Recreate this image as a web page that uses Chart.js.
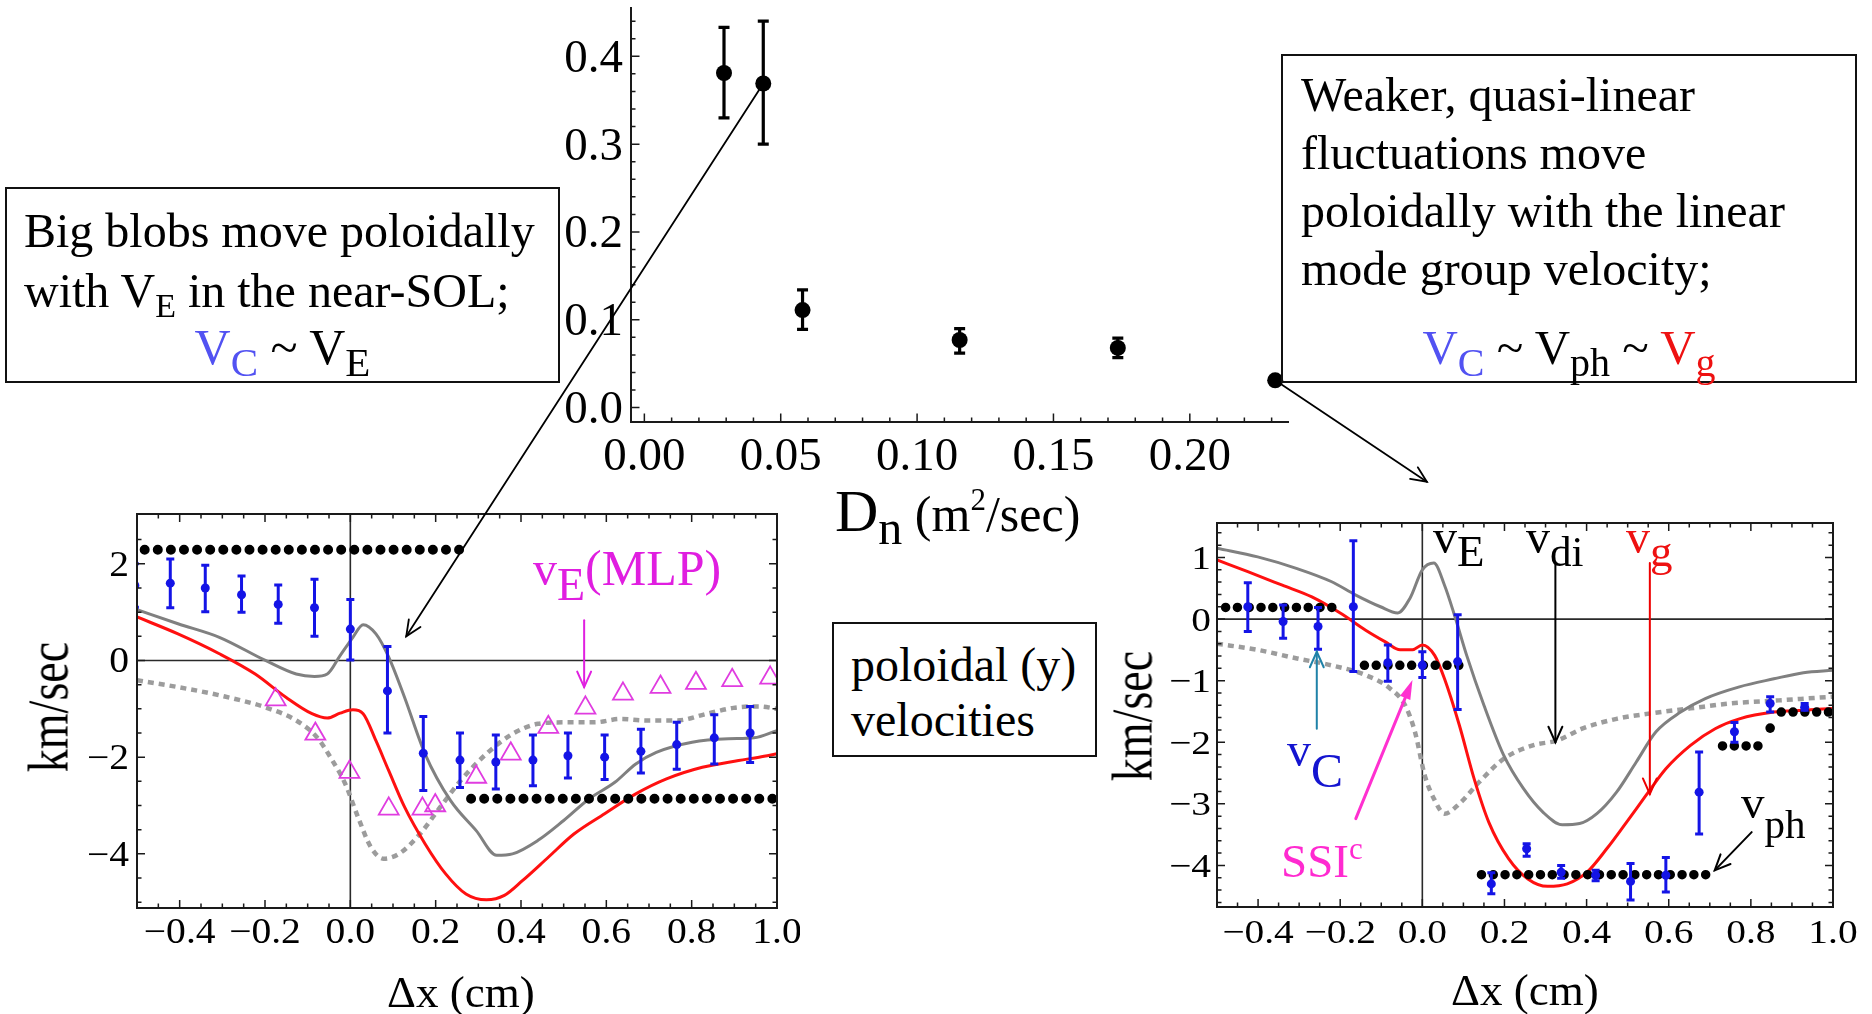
<!DOCTYPE html>
<html><head><meta charset="utf-8">
<script src="https://cdn.jsdelivr.net/npm/chart.js@4.4.1/dist/chart.umd.min.js"></script>
<style>
html,body{margin:0;padding:0;background:#fff;}
body{width:1872px;height:1014px;position:relative;overflow:hidden;font-family:'Liberation Serif','Times New Roman',serif;color:#000;}
.cw{position:absolute;}
.box{position:absolute;box-sizing:border-box;border:2px solid #111;font-size:48px;white-space:nowrap;}
.t{position:absolute;white-space:nowrap;line-height:1;}
.r{position:relative;}
#overlay{position:absolute;left:0;top:0;pointer-events:none;z-index:5;}
</style></head><body>

<div class="cw" style="left:520px;top:0px;width:800px;height:560px;"><canvas id="cTop"></canvas></div>
<div class="cw" style="left:0px;top:480px;width:800px;height:534px;"><canvas id="cLeft"></canvas></div>
<div class="cw" style="left:1100px;top:480px;width:772px;height:534px;"><canvas id="cRight"></canvas></div>

<!-- text boxes -->
<div class="box" style="left:5px;top:187px;width:555px;height:196px;padding:12px 0 0 17px;line-height:60px;">Big blobs move poloidally<br>with V<span class="r" style="font-size:34px;top:10px">E</span> in the near-SOL;
<div style="position:absolute;left:0;right:0;top:133px;text-align:center;font-size:50px;line-height:50px;"><span style="color:#5252f2">V<span class="r" style="font-size:41px;top:12px">C</span></span> ~ V<span class="r" style="font-size:41px;top:12px">E</span></div></div>

<div class="box" style="left:1281px;top:54px;width:576px;height:329px;padding:10px 0 0 18px;line-height:58px;">Weaker, quasi-linear<br>fluctuations move<br>poloidally with the linear<br>mode group velocity;
<div style="position:absolute;left:0;right:0;top:267px;text-align:center;font-size:49px;line-height:49px;"><span style="color:#5252f2">V<span class="r" style="font-size:40px;top:12px">C</span></span> ~ V<span class="r" style="font-size:40px;top:12px">ph</span> ~ <span style="color:#ee1111">V<span class="r" style="font-size:40px;top:12px">g</span></span></div></div>

<div class="box" style="left:832px;top:622px;width:265px;height:135px;padding:13px 0 0 17px;line-height:55px;">poloidal (y)<br>velocities</div>

<!-- axis titles -->
<div class="t" style="left:835px;top:481px;font-size:60px;">D<span class="r" style="font-size:48px;top:13px">n</span><span style="font-size:50px"> (m<span class="r" style="font-size:31px;top:-21px">2</span>/sec)</span></div>
<div class="t" style="left:387px;top:970px;font-size:45px;">Δx (cm)</div>
<div class="t" style="left:1451px;top:968px;font-size:45px;">Δx (cm)</div>
<div class="t" style="left:-26px;top:682px;width:150px;height:50px;line-height:50px;font-size:46px;text-align:center;transform:rotate(-90deg) scaleY(1.25);">km/sec</div>
<div class="t" style="left:1058px;top:691px;width:150px;height:50px;line-height:50px;font-size:46px;text-align:center;transform:rotate(-90deg) scaleY(1.25);">km/sec</div>

<!-- in-chart annotations -->
<div class="t" style="left:533px;top:543px;font-size:50px;color:#e01ee0;"><span style="font-size:48px">v</span><span class="r" style="font-size:46px;top:15px">E</span><span>(MLP)</span></div>
<div class="t" style="left:1433px;top:513px;font-size:48px;">v<span class="r" style="font-size:45px;top:13px">E</span></div>
<div class="t" style="left:1526px;top:513px;font-size:48px;">v<span class="r" style="font-size:43px;top:13px">di</span></div>
<div class="t" style="left:1626px;top:513px;font-size:48px;color:#ee1111;">v<span class="r" style="font-size:45px;top:13px">g</span></div>
<div class="t" style="left:1287px;top:726px;font-size:48px;color:#1414d0;">v<span class="r" style="font-size:48px;top:21px">C</span></div>
<div class="t" style="left:1281px;top:838px;font-size:47px;color:#ff2ad0;">SSI<span class="r" style="font-size:31px;top:-18px">c</span></div>
<div class="t" style="left:1741px;top:779px;font-size:47px;">v<span class="r" style="font-size:41px;top:20px">ph</span></div>

<canvas id="overlay" width="1872" height="1014"></canvas>

<script>
// ---------------- DATA ----------------
// Top chart: blob poloidal velocity correlation vs D_n
const dnValues    = [0.0292, 0.0436, 0.0580, 0.1156, 0.1736, 0.2313];
const topYValues  = [0.381, 0.369, 0.111, 0.077, 0.068, 0.031];
const topErrHigh  = [0.433, 0.440, 0.134, 0.090, 0.079, null];
const topErrLow   = [0.330, 0.300, 0.089, 0.062, 0.057, null];
const topXTicks = [0, 0.05, 0.10, 0.15, 0.20];
const topXTickLabels = ['0.00', '0.05', '0.10', '0.15', '0.20'];
const topYTicks = [0, 0.1, 0.2, 0.3, 0.4];
const topYTickLabels = ['0.0', '0.1', '0.2', '0.3', '0.4'];

// Bottom-left chart
const leftVcX  = [-0.505, -0.422, -0.340, -0.255, -0.169, -0.084, 0.0, 0.087, 0.171, 0.257, 0.341, 0.428, 0.510, 0.596, 0.681, 0.765, 0.853, 0.937];
const leftVcY  = [1.55, 1.60, 1.50, 1.36, 1.16, 1.09, 0.65, -0.63, -1.92, -2.06, -2.10, -2.06, -1.97, -2.00, -1.88, -1.74, -1.60, -1.50];
const leftVcHi = [2.00, 2.10, 1.97, 1.75, 1.56, 1.68, 1.26, 0.29, -1.16, -1.50, -1.54, -1.54, -1.50, -1.54, -1.42, -1.28, -1.12, -0.95];
const leftVcLo = [1.10, 1.09, 1.01, 1.00, 0.77, 0.50, 0.01, -1.50, -2.69, -2.63, -2.66, -2.59, -2.43, -2.46, -2.33, -2.25, -2.14, -2.11];
const leftMlpX = [-0.175, -0.082, -0.002, 0.090, 0.169, 0.199, 0.295, 0.376, 0.464, 0.551, 0.639, 0.727, 0.810, 0.895, 0.984];
const leftMlpY = [-0.81, -1.52, -2.31, -3.07, -3.07, -3.00, -2.41, -1.93, -1.38, -0.98, -0.69, -0.55, -0.47, -0.41, -0.36];
const leftGray = [[-0.5,1.05],[-0.404,0.76],[-0.307,0.48],[-0.199,0.0],[-0.127,-0.28],[-0.084,-0.33],[-0.054,-0.28],[-0.024,0.10],[0.006,0.48],[0.030,0.74],[0.060,0.55],[0.090,0.07],[0.127,-0.76],[0.175,-1.93],[0.235,-2.90],[0.295,-3.52],[0.343,-4.03],[0.380,-4.00],[0.440,-3.72],[0.500,-3.31],[0.560,-2.86],[0.620,-2.52],[0.669,-2.14],[0.717,-1.90],[0.801,-1.69],[0.886,-1.62],[0.946,-1.60],[1.0,-1.45]];
const leftRed = [[-0.5,0.90],[-0.404,0.55],[-0.307,0.14],[-0.223,-0.28],[-0.151,-0.76],[-0.090,-1.10],[-0.054,-1.19],[-0.024,-1.09],[0.006,-1.02],[0.030,-1.10],[0.060,-1.66],[0.090,-2.28],[0.127,-3.03],[0.175,-3.79],[0.223,-4.41],[0.271,-4.83],[0.319,-4.95],[0.361,-4.86],[0.404,-4.55],[0.464,-4.07],[0.524,-3.59],[0.596,-3.17],[0.669,-2.76],[0.741,-2.45],[0.825,-2.21],[0.910,-2.07],[0.958,-2.00],[1.0,-1.93]];
const leftDotted = [[-0.5,-0.41],[-0.404,-0.55],[-0.307,-0.72],[-0.199,-0.97],[-0.127,-1.24],[-0.078,-1.59],[-0.042,-2.07],[-0.012,-2.55],[0.018,-3.24],[0.048,-3.86],[0.078,-4.10],[0.114,-4.00],[0.163,-3.59],[0.211,-3.03],[0.259,-2.48],[0.319,-1.93],[0.380,-1.52],[0.440,-1.31],[0.500,-1.28],[0.572,-1.28],[0.633,-1.21],[0.693,-1.24],[0.765,-1.24],[0.837,-1.10],[0.898,-0.98],[0.958,-0.95],[1.0,-1.00]];
const leftDotsUpper = [[-0.482, 2.29], [0.259, 2.29]];
const leftDotsLower = [[0.283, -2.86], [1.0, -2.86]];
const leftXTicks = [-0.4, -0.2, 0.0, 0.2, 0.4, 0.6, 0.8, 1.0];
const leftXTickLabels = ['\u22120.4', '\u22120.2', '0.0', '0.2', '0.4', '0.6', '0.8', '1.0'];
const leftYTicks = [-4, -2, 0, 2];
const leftYTickLabels = ['\u22124', '\u22122', '0', '2'];

// Bottom-right chart
const rightVcX  = [-0.425, -0.339, -0.254, -0.168, -0.084, 0.0, 0.086, 0.168, 0.254, 0.338, 0.422, 0.507, 0.593, 0.674, 0.760, 0.847, 0.931];
const rightVcY  = [0.20, -0.04, -0.12, 0.20, -0.71, -0.75, -0.69, -4.30, -3.73, -4.11, -4.16, -4.26, -4.16, -2.81, -1.83, -1.37, -1.43];
const rightVcHi = [0.59, 0.23, 0.19, 1.27, -0.42, -0.53, 0.07, -4.12, -3.65, -4.00, -4.08, -3.97, -3.87, -2.16, -1.68, -1.26, -1.37];
const rightVcLo = [-0.20, -0.31, -0.49, -0.85, -1.01, -0.95, -1.47, -4.46, -3.85, -4.21, -4.25, -4.56, -4.43, -3.49, -2.00, -1.51, -1.48];
const rightGray = [[-0.5,1.15],[-0.401,1.01],[-0.305,0.82],[-0.222,0.61],[-0.162,0.39],[-0.102,0.20],[-0.060,0.10],[-0.030,0.34],[0.0,0.80],[0.028,0.91],[0.054,0.55],[0.078,0.07],[0.108,-0.59],[0.150,-1.40],[0.198,-2.21],[0.246,-2.75],[0.293,-3.13],[0.341,-3.34],[0.383,-3.32],[0.425,-3.16],[0.473,-2.81],[0.521,-2.32],[0.569,-1.83],[0.629,-1.51],[0.689,-1.29],[0.772,-1.10],[0.856,-0.97],[0.928,-0.87],[1.0,-0.83]];
const rightRed = [[-0.5,0.96],[-0.425,0.77],[-0.341,0.55],[-0.269,0.36],[-0.198,0.09],[-0.138,-0.18],[-0.090,-0.37],[-0.054,-0.50],[-0.024,-0.50],[0.0,-0.42],[0.030,-0.59],[0.054,-0.97],[0.090,-1.72],[0.126,-2.59],[0.162,-3.30],[0.210,-3.89],[0.257,-4.22],[0.305,-4.34],[0.353,-4.30],[0.401,-4.11],[0.449,-3.73],[0.497,-3.30],[0.545,-2.86],[0.593,-2.43],[0.653,-2.05],[0.713,-1.78],[0.772,-1.62],[0.856,-1.51],[0.928,-1.48],[1.0,-1.45]];
const rightDotted = [[-0.5,-0.40],[-0.401,-0.50],[-0.305,-0.64],[-0.222,-0.75],[-0.138,-0.91],[-0.078,-1.13],[-0.042,-1.40],[-0.018,-1.83],[0.006,-2.54],[0.030,-2.94],[0.054,-3.16],[0.090,-3.00],[0.138,-2.65],[0.198,-2.27],[0.269,-2.05],[0.329,-1.97],[0.389,-1.78],[0.473,-1.62],[0.557,-1.53],[0.653,-1.45],[0.749,-1.37],[0.868,-1.32],[1.0,-1.26]];
const rightDotsA = [[-0.479, 0.19], [-0.198, 0.19]];
const rightDotsB = [[-0.141, -0.75], [0.114, -0.75]];
const rightDotsC = [[0.144, -4.15], [0.707, -4.15]];
const rightDotsD = [[0.731, -2.06], [0.820, -2.06]];
const rightDotsE = [[0.874, -1.51], [1.0, -1.51]];
const rightDotSingle = [[0.847, -1.77]];
const rightXTicks = [-0.4, -0.2, 0.0, 0.2, 0.4, 0.6, 0.8, 1.0];
const rightXTickLabels = ['\u22120.4', '\u22120.2', '0.0', '0.2', '0.4', '0.6', '0.8', '1.0'];
const rightYTicks = [-4, -3, -2, -1, 0, 1];
const rightYTickLabels = ['\u22124', '\u22123', '\u22122', '\u22121', '0', '1'];

// ---------------- STYLE / ANNOTATION CONFIG ----------------
const FONT = "'Liberation Serif','Times New Roman',serif";
const BLUE = '#1414e6', RED = '#ff1010', GRAY = '#808080', DGRAY = '#9c9c9c', MAG = '#e03ce0';

const axisCfg = {
  cTop:   {frame:false, zero:false, font:46, sx:1.02, xMaj:topXTicks, xLab:topXTickLabels, xMinStep:0.01, yMaj:topYTicks, yLab:topYTickLabels, yMinStep:0.02, xBase:47.5, yGap:8, major:8.5, minor:4.5},
  cLeft:  {frame:true, zero:true, font:35, sx:1.13, xMaj:leftXTicks, xLab:leftXTickLabels, xMinStep:0.05, yMaj:leftYTicks, yLab:leftYTickLabels, yMinStep:0.5, xBase:35, yGap:8, major:8, minor:4.5},
  cRight: {frame:true, zero:true, font:34, sx:1.16, xMaj:rightXTicks, xLab:rightXTickLabels, xMinStep:0.05, yMaj:rightYTicks, yLab:rightYTickLabels, yMinStep:0.2, xBase:35.5, yGap:6, major:8, minor:4.5}
};
const arrowCfg = {
  cLeft: [{x1:0.548, y1:0.83, x2:0.548, y2:-0.55, color:'#e020e0', w:2}],
  cRight: [
    {x1:0.324, y1:0.91, x2:0.324, y2:-2.0, color:'#000', w:2},
    {x1:0.554, y1:0.91, x2:0.554, y2:-2.84, color:'#e00', w:2},
    {x1:-0.257, y1:-1.78, x2:-0.257, y2:-0.53, color:'#1f82a8', w:2},
    {x1:-0.162, y1:-3.24, x2:-0.024, y2:-0.99, color:'#ff30d0', w:3, filled:true},
    {x1:0.802, y1:-3.46, x2:0.712, y2:-4.08, color:'#000', w:2}
  ]
};

function drawArrow(ctx, x1, y1, x2, y2, color, w, filled) {
  const ang = Math.atan2(y2 - y1, x2 - x1);
  const L = filled ? 20 : 17, sp = filled ? 0.28 : 0.42;
  ctx.save();
  ctx.strokeStyle = color; ctx.fillStyle = color; ctx.lineWidth = w; ctx.lineCap = 'round';
  ctx.beginPath(); ctx.moveTo(x1, y1);
  ctx.lineTo(filled ? x2 - Math.cos(ang) * L * 0.8 : x2, filled ? y2 - Math.sin(ang) * L * 0.8 : y2);
  ctx.stroke();
  const ax = x2 - L * Math.cos(ang - sp), ay = y2 - L * Math.sin(ang - sp);
  const bx = x2 - L * Math.cos(ang + sp), by = y2 - L * Math.sin(ang + sp);
  ctx.beginPath();
  if (filled) { ctx.moveTo(x2, y2); ctx.lineTo(ax, ay); ctx.lineTo(bx, by); ctx.closePath(); ctx.fill(); }
  else { ctx.moveTo(ax, ay); ctx.lineTo(x2, y2); ctx.lineTo(bx, by); ctx.stroke(); }
  ctx.restore();
}

const mmaPlugin = {
  id: 'mma',
  beforeDatasetsDraw(chart) {
    const c = axisCfg[chart.canvas.id];
    if (!c || !c.zero) return;
    const {ctx, chartArea: a, scales: {x, y}} = chart;
    const x0 = x.getPixelForValue(0), y0 = y.getPixelForValue(0);
    ctx.save(); ctx.strokeStyle = '#2a2a2a'; ctx.lineWidth = 1.6;
    ctx.beginPath(); ctx.moveTo(x0, a.top); ctx.lineTo(x0, a.bottom);
    ctx.moveTo(a.left, y0); ctx.lineTo(a.right, y0); ctx.stroke(); ctx.restore();
  },
  afterDatasetsDraw(chart) {
    const {ctx, chartArea: a, scales: {x, y}} = chart;
    ctx.save();
    ctx.beginPath(); ctx.rect(a.left, a.top, a.right - a.left, a.bottom - a.top); ctx.clip();
    chart.data.datasets.forEach(ds => {
      if (!ds.errHi) return;
      ctx.strokeStyle = ds.pointBackgroundColor; ctx.lineWidth = ds.errWidth; ctx.lineCap = 'butt';
      ds.data.forEach((p, j) => {
        const hi = ds.errHi[j], lo = ds.errLo[j];
        if (hi == null || lo == null) return;
        const px = x.getPixelForValue(p.x), p1 = y.getPixelForValue(hi), p2 = y.getPixelForValue(lo), cw = ds.capHalf;
        ctx.beginPath();
        ctx.moveTo(px, p1); ctx.lineTo(px, p2);
        ctx.moveTo(px - cw, p1); ctx.lineTo(px + cw, p1);
        ctx.moveTo(px - cw, p2); ctx.lineTo(px + cw, p2);
        ctx.stroke();
      });
    });
    ctx.restore();
    (arrowCfg[chart.canvas.id] || []).forEach(r => {
      drawArrow(ctx, x.getPixelForValue(r.x1), y.getPixelForValue(r.y1), x.getPixelForValue(r.x2), y.getPixelForValue(r.y2), r.color, r.w, r.filled);
    });
  },
  afterDraw(chart) {
    const c = axisCfg[chart.canvas.id];
    if (!c) return;
    const {ctx, chartArea: a, scales: {x, y}} = chart;
    ctx.save();
    ctx.strokeStyle = '#1a1a1a'; ctx.lineWidth = 2; ctx.lineCap = 'square';
    ctx.beginPath();
    if (c.frame) ctx.rect(a.left, a.top, a.right - a.left, a.bottom - a.top);
    else { ctx.moveTo(a.left, a.top); ctx.lineTo(a.left, a.bottom); ctx.lineTo(a.right, a.bottom); }
    ctx.stroke();
    ctx.lineWidth = 1.5; ctx.lineCap = 'butt';
    ctx.beginPath();
    const xt = (v, len) => {
      const px = x.getPixelForValue(v);
      if (px < a.left + 1.5 || px > a.right - 1.5) return;
      ctx.moveTo(px, a.bottom); ctx.lineTo(px, a.bottom - len);
      if (c.frame) { ctx.moveTo(px, a.top); ctx.lineTo(px, a.top + len); }
    };
    const yt = (v, len) => {
      const py = y.getPixelForValue(v);
      if (py < a.top + 1.5 || py > a.bottom - 1.5) return;
      ctx.moveTo(a.left, py); ctx.lineTo(a.left + len, py);
      if (c.frame) { ctx.moveTo(a.right, py); ctx.lineTo(a.right - len, py); }
    };
    for (let k = Math.ceil(x.min / c.xMinStep - 1e-6); k * c.xMinStep <= x.max + 1e-9; k++) xt(k * c.xMinStep, c.minor);
    for (let k = Math.ceil(y.min / c.yMinStep - 1e-6); k * c.yMinStep <= y.max + 1e-9; k++) yt(k * c.yMinStep, c.minor);
    c.xMaj.forEach(v => xt(v, c.major));
    c.yMaj.forEach(v => yt(v, c.major));
    ctx.stroke();
    ctx.fillStyle = '#000';
    ctx.font = c.font + 'px ' + FONT;
    ctx.textBaseline = 'alphabetic';
    const lbl = (t, px, py, align) => {
      ctx.save(); ctx.translate(px, py); ctx.scale(c.sx, 1); ctx.textAlign = align; ctx.fillText(t, 0, 0); ctx.restore();
    };
    c.xMaj.forEach((v, i) => lbl(c.xLab[i], x.getPixelForValue(v), a.bottom + c.xBase, 'center'));
    c.yMaj.forEach((v, i) => lbl(c.yLab[i], a.left - c.yGap, y.getPixelForValue(v) + 0.338 * c.font, 'right'));
    ctx.restore();
  }
};

function xy(xs, ys) { return xs.map((v, i) => ({x: v, y: ys[i]})); }
function pairs(arr) { return arr.map(p => ({x: p[0], y: p[1]})); }
function curve(arr, color, width, dash) {
  return {data: pairs(arr), showLine: true, borderColor: color, borderWidth: width, borderDash: dash || [], pointRadius: 0, fill: false, cubicInterpolationMode: 'monotone', clip: 0, borderCapStyle: 'butt'};
}
function dotRow(arr, gap, size) {
  return {data: pairs(arr), showLine: true, borderColor: '#000', borderWidth: size, borderDash: [0, gap], borderCapStyle: 'round', pointRadius: 0, fill: false, clip: 0};
}
function errPts(xs, ys, hi, lo, color, r, errW, cap) {
  return {data: xy(xs, ys), showLine: false, pointRadius: r, pointBackgroundColor: color, pointBorderColor: color, pointBorderWidth: 0, errHi: hi, errLo: lo, errWidth: errW, capHalf: cap, clip: 0};
}
function scales(xmin, xmax, ymin, ymax, yW, xH) {
  return {
    x: {type: 'linear', position: 'bottom', min: xmin, max: xmax, ticks: {display: false}, grid: {display: false}, border: {display: false}, afterFit: s => { s.height = xH; }},
    y: {type: 'linear', position: 'left', min: ymin, max: ymax, ticks: {display: false}, grid: {display: false}, border: {display: false}, afterFit: s => { s.width = yW; }}
  };
}
function baseOpts(sc, pad) {
  return {responsive: true, maintainAspectRatio: false, animation: false, devicePixelRatio: 1, events: [],
    layout: {padding: pad}, plugins: {legend: {display: false}, tooltip: {enabled: false}}, scales: sc};
}

const topChart = new Chart(document.getElementById('cTop'), {
  type: 'scatter',
  data: {datasets: [errPts(dnValues, topYValues, topErrHigh, topErrLow, '#000', 8, 3.2, 5.5)]},
  options: baseOpts(scales(-0.0049, 0.236, -0.0164, 0.455, 111, 138), {left: 0, top: 8, right: 32, bottom: 0}),
  plugins: [mmaPlugin]
});

const leftChart = new Chart(document.getElementById('cLeft'), {
  type: 'scatter',
  data: {datasets: [
    errPts(leftVcX, leftVcY, leftVcHi, leftVcLo, BLUE, 4.5, 3, 4),
    {data: xy(leftMlpX, leftMlpY), showLine: false, pointStyle: 'triangle', pointRadius: 11.5, pointBorderColor: MAG, pointBackgroundColor: 'rgba(0,0,0,0)', pointBorderWidth: 1.8, clip: 0},
    dotRow(leftDotsUpper, 13.1, 10),
    dotRow(leftDotsLower, 13.1, 10),
    curve(leftRed, RED, 3),
    curve(leftGray, GRAY, 3),
    curve(leftDotted, DGRAY, 4.5, [6, 5])
  ]},
  options: baseOpts(scales(-0.5, 1.0, -5.12, 3.03, 137, 106), {left: 0, top: 34, right: 23, bottom: 0}),
  plugins: [mmaPlugin]
});

const rightChart = new Chart(document.getElementById('cRight'), {
  type: 'scatter',
  data: {datasets: [
    errPts(rightVcX, rightVcY, rightVcHi, rightVcLo, BLUE, 4.5, 3, 4),
    dotRow(rightDotsA, 11.8, 9.5),
    dotRow(rightDotsB, 11.8, 9.5),
    dotRow(rightDotsC, 11.8, 9.5),
    dotRow(rightDotsD, 11.8, 9.5),
    dotRow(rightDotsE, 11.8, 9.5),
    {data: pairs(rightDotSingle), showLine: false, pointRadius: 4.8, pointBackgroundColor: '#000', pointBorderWidth: 0, clip: 0},
    curve(rightRed, RED, 3),
    curve(rightGray, GRAY, 3),
    curve(rightDotted, DGRAY, 4.5, [6, 5])
  ]},
  options: baseOpts(scales(-0.5, 1.0, -4.675, 1.56, 117, 107), {left: 0, top: 43, right: 39, bottom: 0}),
  plugins: [mmaPlugin]
});

// ---------------- cross-chart pointer arrows ----------------
function pagePt(chart, xv, yv) {
  const r = chart.canvas.getBoundingClientRect();
  return [r.left + chart.scales.x.getPixelForValue(xv), r.top + chart.scales.y.getPixelForValue(yv)];
}
function drawOverlay() {
  const ov = document.getElementById('overlay').getContext('2d');
  ov.clearRect(0, 0, 1872, 1014);
  const a1 = pagePt(topChart, dnValues[1], topYValues[1]);
  const b1 = pagePt(leftChart, 0.131, 0.50);
  const a2 = pagePt(topChart, dnValues[5], topYValues[5]);
  const b2 = pagePt(rightChart, 0.011, 2.23);
  drawArrow(ov, a1[0], a1[1], b1[0], b1[1], '#000', 1.8, false);
  drawArrow(ov, a2[0], a2[1], b2[0], b2[1], '#000', 1.8, false);
}
drawOverlay();
</script>
</body></html>
